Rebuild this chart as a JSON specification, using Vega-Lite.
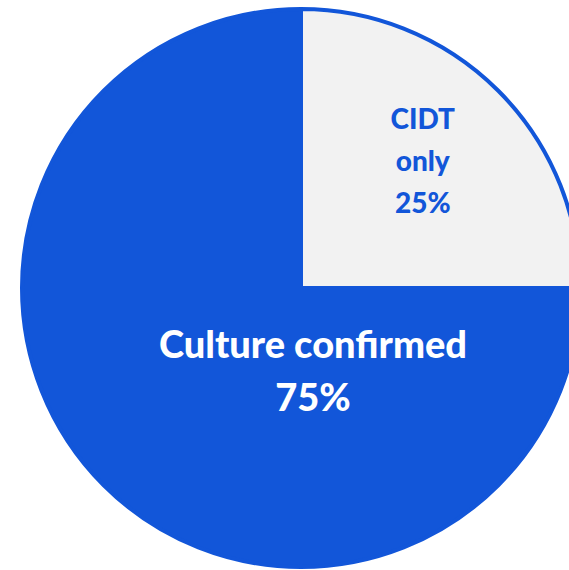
{
  "$schema": "https://vega.github.io/schema/vega-lite/v6.json",
  "autosize": "none",
  "padding": 0,
  "width": 602,
  "height": 576,
  "background": "white",
  "view": {"stroke": null},
  "data": {
    "values": [
      {"category": "CIDT only", "percent": 25, "order": 1, "label": "CIDT\nonly\n25%"},
      {"category": "Culture confirmed", "percent": 75, "order": 2, "label": "Culture confirmed\n75%"}
    ]
  },
  "layer": [
    {
      "mark": {"type": "arc", "outerRadius": 279, "stroke": "#1256D9", "strokeWidth": 4},
      "encoding": {
        "theta": {"field": "percent", "type": "quantitative", "stack": true, "scale": {"domain": [0, 100]}},
        "order": {"field": "order", "type": "quantitative"},
        "color": {
          "field": "category",
          "type": "nominal",
          "scale": {"domain": ["CIDT only", "Culture confirmed"], "range": ["#F2F2F2", "#1256D9"]},
          "legend": null
        }
      }
    },
    {
      "transform": [{"filter": "datum.category === 'CIDT only'"}],
      "mark": {"type": "text", "radius": 175, "font": "Lato", "fontWeight": 900, "fontSize": 28, "lineHeight": 42, "align": "center", "baseline": "middle", "lineBreak": "\n", "color": "#1256D9", "dx": -2, "dy": -43},
      "encoding": {
        "theta": {"field": "percent", "type": "quantitative", "stack": true, "scale": {"domain": [0, 100]}},
        "order": {"field": "order", "type": "quantitative"},
        "text": {"field": "label"}
      }
    },
    {
      "transform": [{"filter": "datum.category === 'Culture confirmed'"}],
      "mark": {"type": "text", "font": "Lato", "fontWeight": 900, "fontSize": 38, "lineHeight": 53, "align": "center", "baseline": "middle", "lineBreak": "\n", "color": "white", "dx": 12, "dy": 59},
      "encoding": {
        "text": {"field": "label"}
      }
    }
  ]
}
